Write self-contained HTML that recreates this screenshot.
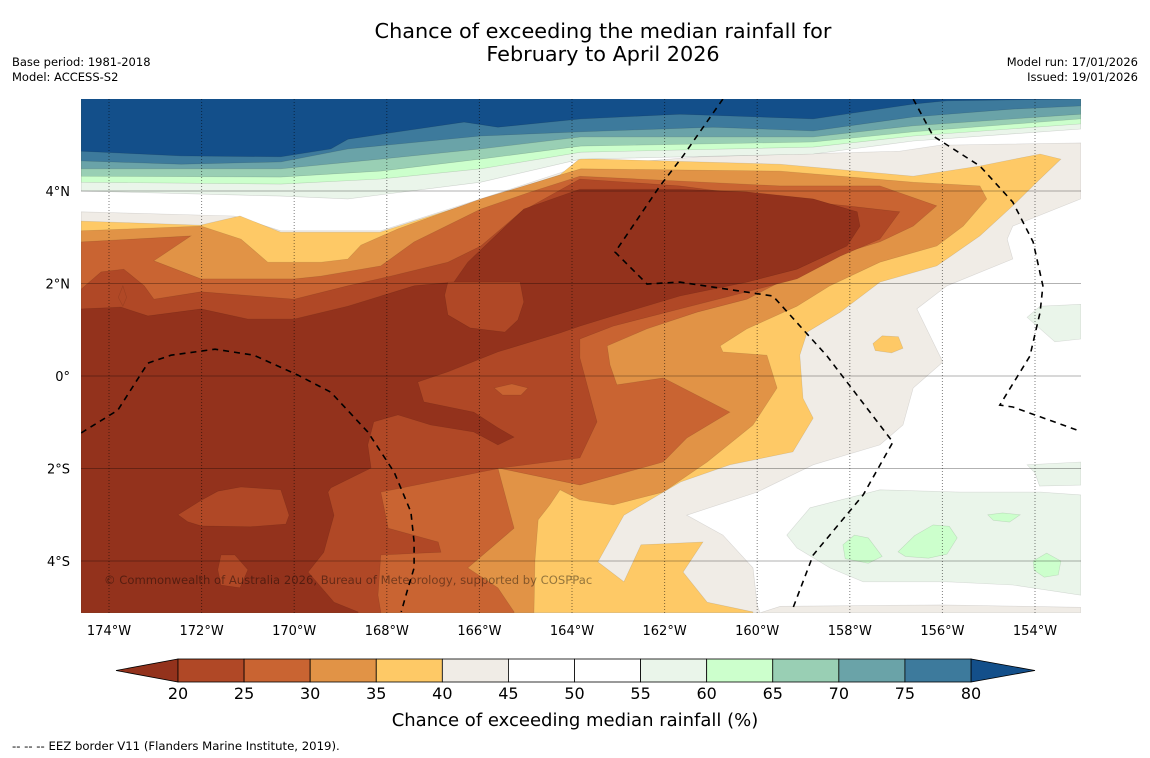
<!DOCTYPE html>
<html><head><meta charset="utf-8"><style>
html,body{margin:0;padding:0;background:#fff;}
svg{display:block;font-family:"DejaVu Sans","Liberation Sans",sans-serif;}
</style></head><body>
<svg id="chart" width="1150" height="758" viewBox="0 0 1150 758" xmlns="http://www.w3.org/2000/svg">
<text x="603" y="38" text-anchor="middle" font-size="20.8" fill="#000">Chance of exceeding the median rainfall for</text>
<text x="603" y="61" text-anchor="middle" font-size="20.8" fill="#000">February to April 2026</text>
<text x="12" y="66" font-size="11.5">Base period: 1981-2018</text>
<text x="12" y="81" font-size="11.5">Model: ACCESS-S2</text>
<text x="1138" y="66" font-size="11.5" text-anchor="end">Model run: 17/01/2026</text>
<text x="1138" y="81" font-size="11.5" text-anchor="end">Issued: 19/01/2026</text>
<defs><clipPath id="mapclip"><rect x="81" y="99" width="1000" height="514"/></clipPath></defs>
<g id="map" clip-path="url(#mapclip)">
<rect x="81" y="99" width="1000" height="514" fill="#ffffff"/>
<g id="fills"></g><g id="grid"></g><g id="eez"></g>
<text x="104" y="584" font-size="11.6" fill="#000" fill-opacity="0.42">© Commonwealth of Australia 2026, Bureau of Meteorology, supported by COSPPac</text>
</g>
<g id="axes"></g>
<g id="colorbar"></g>
<text x="575" y="726" text-anchor="middle" font-size="18">Chance of exceeding median rainfall (%)</text>
<text x="12" y="750" font-size="11.7">--  --  -- EEZ border V11 (Flanders Marine Institute, 2019).</text>
</svg>
<script>
// axis ranges
const lonTicks=[-174,-172,-170,-168,-166,-164,-162,-160,-158,-156,-154];
const latTicks=[4,2,0,-2,-4];
const cbLevels=[20,25,30,35,40,45,50,55,60,65,70,75,80];
const cbColors=["#b04826","#c96432","#e19346","#fec966","#f0ece6","#ffffff","#ffffff","#eaf5ea","#ccffcc","#99cfb4","#6aa3a8","#3d7a9c"];
const cbUnder="#93321c", cbOver="#134f8a";
// contour regions [lon,lat]
const beige=[[-174.60,3.55],[-171.30,3.46],[-170.29,3.14],[-168.13,3.14],[-165.97,3.83],[-163.81,4.54],[-161.24,4.74],[-156.92,4.86],[-156.05,4.99],[-153.01,5.04],[-153.01,3.83],[-154.48,3.24],[-154.60,2.96],[-154.48,2.53],[-155.90,1.95],[-156.55,1.45],[-155.99,0.30],[-156.63,-0.26],[-156.85,-1.06],[-157.35,-1.49],[-158.79,-1.92],[-160.00,-2.51],[-161.52,-3.01],[-160.74,-3.44],[-160.09,-4.15],[-160.00,-4.95],[-159.94,-5.12],[-174.60,-5.12]];
const beigeStrip=[[-159.94,-5.12],[-159.5,-4.98],[-156,-4.95],[-153.01,-5.0],[-153.01,-5.12]];
const yellow=[[-174.60,3.35],[-172.03,3.26],[-171.17,3.46],[-170.29,3.11],[-168.15,3.11],[-165.99,3.80],[-164.26,4.35],[-163.83,4.70],[-159.51,4.58],[-156.63,4.32],[-155.19,4.54],[-153.89,4.80],[-153.44,4.69],[-153.89,4.26],[-154.48,3.68],[-155.19,3.03],[-156.12,2.38],[-157.35,2.03],[-158.21,1.38],[-158.92,0.95],[-159.08,0.45],[-159.01,-0.48],[-158.79,-0.91],[-159.23,-1.64],[-160.59,-1.92],[-161.65,-2.29],[-162.88,-3.01],[-163.44,-4.02],[-162.88,-4.45],[-162.51,-3.65],[-161.17,-3.59],[-161.60,-4.24],[-161.08,-4.89],[-160.09,-5.10],[-160.09,-5.12],[-174.60,-5.12]];
const yellowBlob=[[-157.5,0.7],[-157.3,0.87],[-156.95,0.85],[-156.85,0.6],[-157.1,0.5],[-157.45,0.55]];
const orange30=[[-174.60,3.14],[-172.01,3.24],[-171.15,2.96],[-170.57,2.46],[-169.42,2.46],[-168.84,2.53],[-168.56,2.83],[-167.76,3.18],[-165.97,3.83],[-163.81,4.48],[-159.51,4.43],[-156.63,4.19],[-155.19,4.11],[-155.04,3.83],[-155.55,3.24],[-156.12,2.81],[-157.35,2.46],[-158.43,1.95],[-159.14,1.51],[-160.22,1.02],[-160.80,0.65],[-160.74,0.52],[-159.79,0.45],[-159.57,-0.26],[-160.09,-1.06],[-161.08,-1.86],[-162.03,-2.51],[-163.11,-2.79],[-163.83,-2.68],[-164.26,-2.46],[-164.48,-2.79],[-164.73,-3.11],[-164.80,-3.98],[-164.82,-5.10],[-164.82,-5.12],[-174.60,-5.12]];
const orange25=[[-174.60,2.90],[-172.23,3.03],[-173.03,2.49],[-172.01,2.10],[-170.00,2.10],[-169.42,2.16],[-168.13,2.38],[-167.41,2.90],[-165.97,3.61],[-164.89,3.98],[-163.83,4.32],[-159.51,4.11],[-157.35,4.11],[-156.12,3.68],[-156.63,3.24],[-157.35,2.90],[-158.79,2.46],[-159.51,2.03],[-160.22,1.66],[-161.30,1.38],[-162.38,1.02],[-163.24,0.65],[-163.18,0.24],[-163.03,-0.19],[-162.03,-0.04],[-160.59,-0.78],[-161.52,-1.34],[-162.03,-1.86],[-163.83,-2.36],[-165.60,-1.99],[-165.25,-3.29],[-166.25,-4.15],[-165.60,-4.58],[-165.25,-5.10],[-165.25,-5.12],[-174.60,-5.12]];
const brown20=[[-174.60,1.88],[-174.17,2.25],[-173.68,2.31],[-173.24,1.95],[-173.03,1.66],[-172.01,1.82],[-170.00,1.66],[-168.84,1.95],[-167.91,2.16],[-166.68,2.46],[-165.97,2.81],[-165.10,3.55],[-163.83,4.26],[-161.67,4.11],[-159.51,3.83],[-158.06,3.68],[-156.92,3.55],[-157.35,2.96],[-158.21,2.59],[-159.14,2.10],[-160.22,1.82],[-161.67,1.45],[-163.11,1.08],[-163.83,0.80],[-163.83,0.39],[-163.46,-0.99],[-163.83,-1.77],[-165.53,-1.99],[-168.13,-2.51],[-167.97,-3.29],[-166.89,-3.59],[-166.83,-3.81],[-168.13,-3.87],[-168.19,-4.74],[-168.13,-5.10],[-168.13,-5.12],[-174.60,-5.12]];
const under20=[[-174.60,1.45],[-173.74,1.49],[-173.16,1.30],[-172.01,1.45],[-171.00,1.23],[-170.00,1.23],[-168.84,1.51],[-167.41,1.95],[-166.55,2.03],[-166.25,2.46],[-165.04,3.61],[-163.83,4.04],[-161.67,4.04],[-160.22,3.98],[-158.79,3.83],[-157.84,3.55],[-157.78,3.24],[-158.06,2.81],[-159.14,2.31],[-160.22,2.03],[-161.67,1.73],[-163.11,1.30],[-163.83,1.08],[-164.26,0.93],[-165.60,0.52],[-166.68,0.09],[-167.33,-0.13],[-167.20,-0.56],[-166.12,-0.78],[-165.60,-1.12],[-165.25,-1.32],[-165.60,-1.49],[-166.12,-1.21],[-167.05,-1.06],[-167.76,-0.84],[-168.28,-0.99],[-168.41,-1.49],[-168.34,-1.99],[-169.21,-2.42],[-169.27,-2.51],[-169.14,-3.01],[-169.36,-3.81],[-169.70,-4.24],[-169.14,-4.89],[-168.62,-5.10],[-168.62,-5.12],[-174.60,-5.12]];
const blob20a=[[-166.68,2.03],[-165.12,2.03],[-165.04,1.6],[-165.17,1.21],[-165.45,0.95],[-166.20,1.04],[-166.68,1.32],[-166.75,1.75]];
const blob20b=[[-172.51,-3.0],[-172.03,-2.70],[-171.65,-2.49],[-171.15,-2.40],[-170.29,-2.46],[-170.11,-3.01],[-170.18,-3.20],[-170.95,-3.26],[-172.01,-3.24],[-172.3,-3.15]];
const blob20c=[[-171.58,-3.87],[-171.28,-3.87],[-171.00,-4.19],[-171.17,-4.58],[-171.58,-4.52],[-171.65,-4.19]];
const blob20d=[[-173.70,1.95],[-173.62,1.7],[-173.70,1.51],[-173.80,1.7]];
const blob25a=[[-165.68,-0.26],[-165.3,-0.17],[-164.95,-0.26],[-165.1,-0.41],[-165.5,-0.41]];
const band55=[[-174.60,4.00],[-170.29,3.89],[-168.84,3.83],[-165.97,4.19],[-163.81,4.69],[-158.79,4.80],[-156.63,5.08],[-153.01,5.34]];
const band60=[[-174.60,4.19],[-170.29,4.15],[-168.13,4.26],[-165.97,4.48],[-163.81,4.84],[-158.79,4.95],[-156.63,5.19],[-153.01,5.45]];
const band65=[[-174.60,4.32],[-170.29,4.30],[-168.13,4.43],[-165.97,4.69],[-163.81,4.97],[-158.79,5.06],[-156.63,5.28],[-153.01,5.56]];
const band70=[[-174.60,4.48],[-170.29,4.48],[-168.13,4.69],[-165.97,4.91],[-163.81,5.17],[-158.79,5.17],[-156.63,5.41],[-153.01,5.66]];
const band75=[[-174.60,4.65],[-172.44,4.58],[-170.29,4.63],[-168.84,4.91],[-165.97,5.19],[-163.81,5.28],[-160.95,5.38],[-158.79,5.30],[-156.63,5.60],[-154.48,5.77],[-153.01,5.84]];
const band80=[[-174.60,4.86],[-172.44,4.76],[-170.29,4.74],[-169.21,4.91],[-168.84,5.12],[-167.76,5.28],[-166.33,5.49],[-165.60,5.38],[-163.81,5.56],[-161.67,5.66],[-158.79,5.56],[-156.63,5.88],[-155.90,5.95],[-153.01,5.99]];
const green55a=[[-159.36,-3.44],[-158.86,-2.85],[-157.35,-2.46],[-155.62,-2.51],[-153.89,-2.51],[-153.01,-2.57],[-153.01,-4.74],[-154.48,-4.52],[-155.90,-4.45],[-157.71,-4.45],[-158.43,-4.15],[-159.14,-3.72]];
const green55b=[[-154.17,1.27],[-153.89,1.51],[-153.01,1.55],[-153.01,0.80],[-153.57,0.74]];
const green55c=[[-154.17,-1.92],[-153.01,-1.86],[-153.01,-2.36],[-153.9,-2.38],[-154.0,-2.1]];
const green60a=[[-158.15,-3.65],[-157.9,-3.44],[-157.6,-3.5],[-157.30,-3.9],[-157.6,-4.05],[-158.1,-3.95]];
const green60b=[[-156.96,-3.80],[-156.6,-3.45],[-156.2,-3.22],[-155.85,-3.25],[-155.68,-3.5],[-155.9,-3.85],[-156.3,-3.94],[-156.8,-3.9]];
const green60c=[[-155.02,-3.0],[-154.7,-2.96],[-154.32,-3.0],[-154.55,-3.16],[-154.9,-3.12]];
const green60d=[[-154.04,-4.0],[-153.75,-3.83],[-153.44,-4.0],[-153.5,-4.30],[-153.8,-4.35],[-154.02,-4.2]];
const eezA=[[-174.60,-1.23],[-173.81,-0.74],[-173.16,0.28],[-172.66,0.45],[-171.71,0.58],[-170.87,0.45],[-169.92,0.02],[-169.21,-0.35],[-168.41,-1.21],[-167.84,-2.08],[-167.48,-2.94],[-167.41,-3.59],[-167.41,-4.15],[-167.54,-4.58],[-167.69,-5.10]];
const eezB=[[-160.74,5.99],[-161.60,4.76],[-162.10,4.11],[-163.07,2.68],[-162.38,1.99],[-161.67,2.03],[-159.66,1.73],[-158.49,0.43],[-157.07,-1.43],[-157.71,-2.57],[-158.79,-3.87],[-159.23,-5.02]];
const eezC=[[-156.63,5.99],[-156.20,5.19],[-155.19,4.54],[-154.48,3.76],[-154.04,2.90],[-153.83,1.95],[-153.89,1.38],[-154.11,0.43],[-154.76,-0.63],[-154.48,-0.67],[-153.09,-1.17]];

const NS="http://www.w3.org/2000/svg";
function X(lon){return 109+(lon+174)*46.3;}
function Y(lat){return 376-lat*46.25;}
function pts(arr){return arr.map(p=>X(p[0]).toFixed(1)+","+Y(p[1]).toFixed(1)).join(" ");}
function mk(tag,parent,attrs){const e=document.createElementNS(NS,tag);for(const k in attrs)e.setAttribute(k,attrs[k]);parent.appendChild(e);return e;}
const fills=document.getElementById('fills');
const MAPTOP=6.2;
function region(arr,color,name,edge){
  const p=mk('polygon',fills,{points:pts(arr),fill:color,stroke:edge||'rgba(0,0,0,0.12)','stroke-width':0.6});
  
  
}
function band(arr,color,name){
  const full=[[arr[0][0],MAPTOP]].concat(arr).concat([[arr[arr.length-1][0],MAPTOP]]);
  region(full,color,name,'rgba(0,0,0,0.15)');
}
region(beige,cbColors[4],'region-40-45');
region(beigeStrip,cbColors[4],'region-40-45-south');
region(yellow,cbColors[3],'region-35-40');
region(yellowBlob,cbColors[3],'region-35-40-blob');
region(orange30,cbColors[2],'region-30-35');
region(orange25,cbColors[1],'region-25-30');
region(brown20,cbColors[0],'region-20-25');
region(under20,cbUnder,'region-below-20');
region(blob20a,cbColors[0],'region-20-25-blob');
region(blob20b,cbColors[0],'region-20-25-blob');
region(blob20c,cbColors[0],'region-20-25-blob');
region(blob20d,cbColors[0],'region-20-25-blob');
region(blob25a,cbColors[1],'region-25-30-blob');
region(green55a,cbColors[7],'region-55-60');
region(green55b,cbColors[7],'region-55-60');
region(green55c,cbColors[7],'region-55-60');
region(green60a,cbColors[8],'region-60-65');
region(green60b,cbColors[8],'region-60-65');
region(green60c,cbColors[8],'region-60-65');
region(green60d,cbColors[8],'region-60-65');
band(band55,cbColors[7],'band-55-60');
band(band60,cbColors[8],'band-60-65');
band(band65,cbColors[9],'band-65-70');
band(band70,cbColors[10],'band-70-75');
band(band75,cbColors[11],'band-75-80');
band(band80,cbOver,'band-above-80');

// grid
const grid=document.getElementById('grid');
latTicks.forEach(v=>{
  const l=mk('line',grid,{x1:81,x2:1081,y1:Y(v),y2:Y(v),stroke:'rgba(0,0,0,0.3)','stroke-width':1});
  
  
});
lonTicks.forEach(v=>{
  const l=mk('line',grid,{x1:X(v),x2:X(v),y1:99,y2:613,stroke:'rgba(0,0,0,0.5)','stroke-width':1,'stroke-dasharray':'1,2'});
  
  
});
// EEZ
const eez=document.getElementById('eez');
[eezA,eezB,eezC].forEach(a=>{
  const l=mk('polyline',eez,{points:pts(a),fill:'none',stroke:'#000','stroke-width':1.6,'stroke-dasharray':'6,5'});
  
  
});
// axes labels
const axes=document.getElementById('axes');
lonTicks.forEach(v=>{
  const t=mk('text',axes,{x:X(v),y:635,'text-anchor':'middle','font-size':13});
  t.textContent=Math.abs(v)+'°W';
  
  
});
latTicks.forEach(v=>{
  const t=mk('text',axes,{x:70,y:Y(v)+5,'text-anchor':'end','font-size':13});
  t.textContent=v===0?'0°':Math.abs(v)+'°'+(v>0?'N':'S');
  
  
});
// colorbar
const cb=document.getElementById('colorbar');
const cbX0=178,cbX1=971,cbY=659,cbH=23;
function CX(v){return cbX0+(v-cbLevels[0])/(cbLevels[cbLevels.length-1]-cbLevels[0])*(cbX1-cbX0);}
const under=mk('polygon',cb,{points:`116,${cbY+cbH/2} ${cbX0},${cbY} ${cbX0},${cbY+cbH}`,fill:cbUnder,stroke:'#000','stroke-width':0.8});


const over=mk('polygon',cb,{points:`1035,${cbY+cbH/2} ${cbX1},${cbY} ${cbX1},${cbY+cbH}`,fill:cbOver,stroke:'#000','stroke-width':0.8});


cbColors.forEach((c,i)=>{
  const r=mk('rect',cb,{x:CX(cbLevels[i]),y:cbY,width:CX(cbLevels[i+1])-CX(cbLevels[i]),height:cbH,fill:c,stroke:'#000','stroke-width':0.8});
  
  
});
cbLevels.forEach(v=>{
  const t=mk('text',cb,{x:CX(v),y:699,'text-anchor':'middle','font-size':16});
  t.textContent=v;
  
  
});
</script>
</body></html>
